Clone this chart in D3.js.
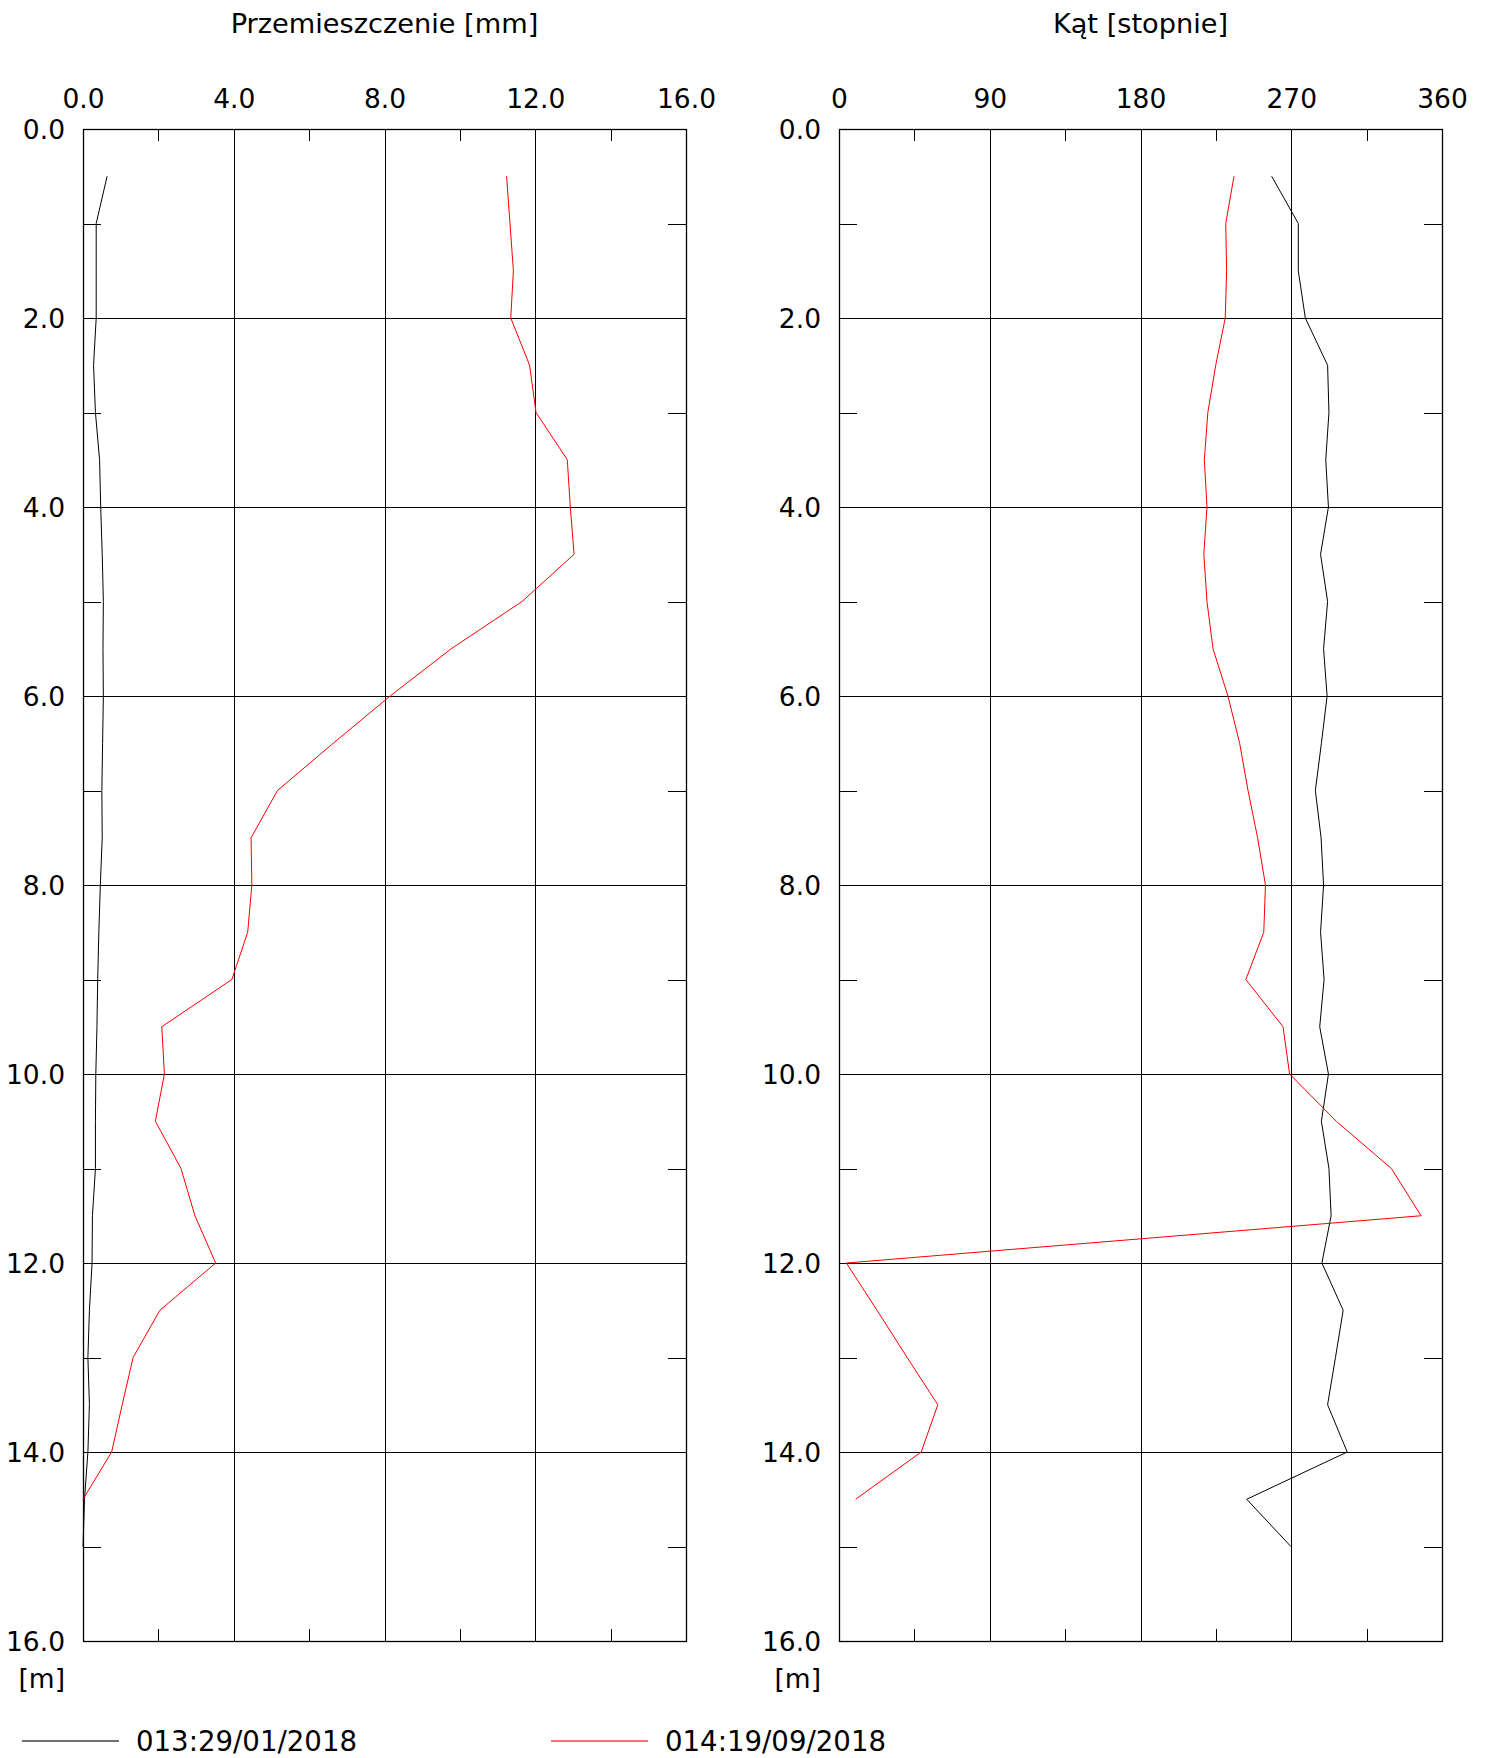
<!DOCTYPE html>
<html>
<head>
<meta charset="utf-8">
<script src="https://cdn.jsdelivr.net/npm/d3@7"></script>
<style>
  html, body { margin: 0; padding: 0; background: #fff; }
  svg text { font-family: "DejaVu Sans", Verdana, sans-serif; fill: #000; }
</style>
</head>
<body>
<svg id="chart" width="1487" height="1758"></svg>
<script>
// ---- data ----
const depths = [0.5,1.0,1.5,2.0,2.5,3.0,3.5,4.0,4.5,5.0,5.5,6.0,6.5,7.0,7.5,8.0,8.5,9.0,9.5,10.0,10.5,11.0,11.5,12.0,12.5,13.0,13.5,14.0,14.5,15.0];
const seriesNames = ["013:29/01/2018", "014:19/09/2018"];
const seriesColors = ["#000000", "#ff0000"];
// displacement [mm]
const disp013 = [0.64,0.35,0.35,0.35,0.28,0.33,0.44,0.47,0.51,0.54,0.53,0.54,0.52,0.50,0.51,0.46,0.42,0.39,0.37,0.34,0.33,0.33,0.25,0.24,0.17,0.13,0.17,0.13,0.04,0.00];
const disp014 = [11.24,11.33,11.42,11.35,11.85,12.02,12.85,12.93,13.03,11.65,9.77,8.15,6.64,5.16,4.46,4.48,4.37,3.95,2.09,2.16,1.92,2.60,2.97,3.52,2.04,1.33,1.04,0.76,0.00];
// angle [degrees]
const ang013 = [258.3,274.2,274.2,278.4,291.7,292.5,290.6,292.2,287.5,291.7,289.3,291.4,288.0,284.4,287.8,289.3,287.5,289.6,287.0,292.2,288.0,292.5,293.8,288.3,301.0,296.4,291.7,303.4,243.4,269.8];
const ang014 = [235.8,230.9,231.4,230.6,224.9,220.2,218.1,219.7,217.8,219.7,223.3,232.2,239.2,244.2,249.9,254.6,253.6,242.9,265.1,269.0,296.9,329.8,347.5,4.4,22.7,40.7,59.0,49.1,9.9];

const dispTicks = [0, 4, 8, 12, 16];
const dispMinor = [2, 6, 10, 14];
const angTicks = [0, 90, 180, 270, 360];
const angMinor = [45, 135, 225, 315];
const depthTicks = [0,2,4,6,8,10,12,14,16];
const depthMinor = [1,3,5,7,9,11,13,15];

const titles = ["Przemieszczenie [mm]", "Kąt [stopnie]"];
const depthUnit = "[m]";

// ---- layout ----
const svg = d3.select("#chart");
const plotTop = 129, plotBottom = 1641;
const panels = [
  {x0: 83, x1: 686, domain: [0,16], ticks: dispTicks, minor: dispMinor, fmt: d3.format(".1f"), data: [disp013, disp014], title: titles[0]},
  {x0: 839, x1: 1442, domain: [0,360], ticks: angTicks, minor: angMinor, fmt: d3.format("d"), data: [ang013, ang014], title: titles[1]}
];
const y = d3.scaleLinear().domain([0,16]).range([plotTop, plotBottom]);
const FS = 26.5;
const FS_TITLE = 27.2;
const FS_LEG = 27.6;

panels.forEach(p => {
  const x = d3.scaleLinear().domain(p.domain).range([p.x0, p.x1]);
  const g = svg.append("g");

  g.selectAll(".vg").data(p.ticks).join("line")
    .attr("x1", d => Math.round(x(d)) + 0.5).attr("x2", d => Math.round(x(d)) + 0.5)
    .attr("y1", plotTop).attr("y2", plotBottom)
    .attr("stroke", "#000").attr("stroke-width", 1);
  g.selectAll(".hg").data(depthTicks).join("line")
    .attr("x1", p.x0).attr("x2", p.x1)
    .attr("y1", d => Math.round(y(d)) + 0.5).attr("y2", d => Math.round(y(d)) + 0.5)
    .attr("stroke", "#000").attr("stroke-width", 1);
  p.minor.forEach(m => {
    const xx = Math.round(x(m)) + 0.5;
    g.append("line").attr("x1", xx).attr("x2", xx).attr("y1", plotTop).attr("y2", plotTop + 12).attr("stroke", "#000");
    g.append("line").attr("x1", xx).attr("x2", xx).attr("y1", plotBottom - 12).attr("y2", plotBottom).attr("stroke", "#000");
  });
  depthMinor.forEach(m => {
    const yy = Math.round(y(m)) + 0.5;
    g.append("line").attr("x1", p.x0).attr("x2", p.x0 + 18).attr("y1", yy).attr("y2", yy).attr("stroke", "#000");
    g.append("line").attr("x1", p.x1 - 18).attr("x2", p.x1).attr("y1", yy).attr("y2", yy).attr("stroke", "#000");
  });
  g.append("rect").attr("x", p.x0 + 0.5).attr("y", plotTop + 0.5)
    .attr("width", p.x1 - p.x0).attr("height", plotBottom - plotTop)
    .attr("fill", "none").attr("stroke", "#000").attr("stroke-width", 1.3);

  const ax = d3.axisTop(x).tickValues(p.ticks).tickFormat(p.fmt).tickSize(0).tickPadding(0);
  const axg = g.append("g").attr("transform", `translate(0,${plotTop})`).call(ax);
  axg.select(".domain").remove();
  axg.selectAll("text").attr("y", -30).attr("dy", "0.35em")
    .style("font-size", FS + "px").style("font-family", "DejaVu Sans, Verdana, sans-serif").attr("fill", "#000");

  const ay = d3.axisLeft(y).tickValues(depthTicks).tickFormat(d3.format(".1f")).tickSize(0).tickPadding(0);
  const ayg = g.append("g").attr("transform", `translate(${p.x0 - 18},0)`).call(ay);
  ayg.select(".domain").remove();
  ayg.selectAll("text").attr("x", 0).attr("dy", "0.35em")
    .style("font-size", FS + "px").style("font-family", "DejaVu Sans, Verdana, sans-serif").attr("fill", "#000");

  g.append("text").attr("x", p.x0 - 18).attr("y", y(16) + 38).attr("dy", "0.35em")
    .attr("text-anchor", "end").style("font-size", FS + "px").text(depthUnit);

  g.append("text").attr("x", (p.x0 + p.x1) / 2).attr("y", 23).attr("dy", "0.35em")
    .attr("text-anchor", "middle").style("font-size", FS_TITLE + "px").text(p.title);

  const line = d3.line().x(d => x(d[0])).y(d => y(d[1]));
  p.data.forEach((vals, i) => {
    const pts = vals.map((v, k) => [v, depths[k]]);
    g.append("path").datum(pts).attr("d", line)
      .attr("fill", "none").attr("stroke", seriesColors[i]).attr("stroke-width", 1);
  });
});

const legX = [22, 551];
const legY = 1741;
seriesNames.forEach((name, i) => {
  const lg = svg.append("g");
  lg.append("line").attr("x1", legX[i]).attr("x2", legX[i] + 97)
    .attr("y1", legY).attr("y2", legY)
    .attr("stroke", seriesColors[i]).attr("stroke-width", 1.5).attr("stroke-opacity", 0.75);
  lg.append("text").attr("x", legX[i] + 114).attr("y", legY).attr("dy", "0.35em")
    .style("font-size", FS_LEG + "px").text(name);
});
</script>
</body>
</html>
